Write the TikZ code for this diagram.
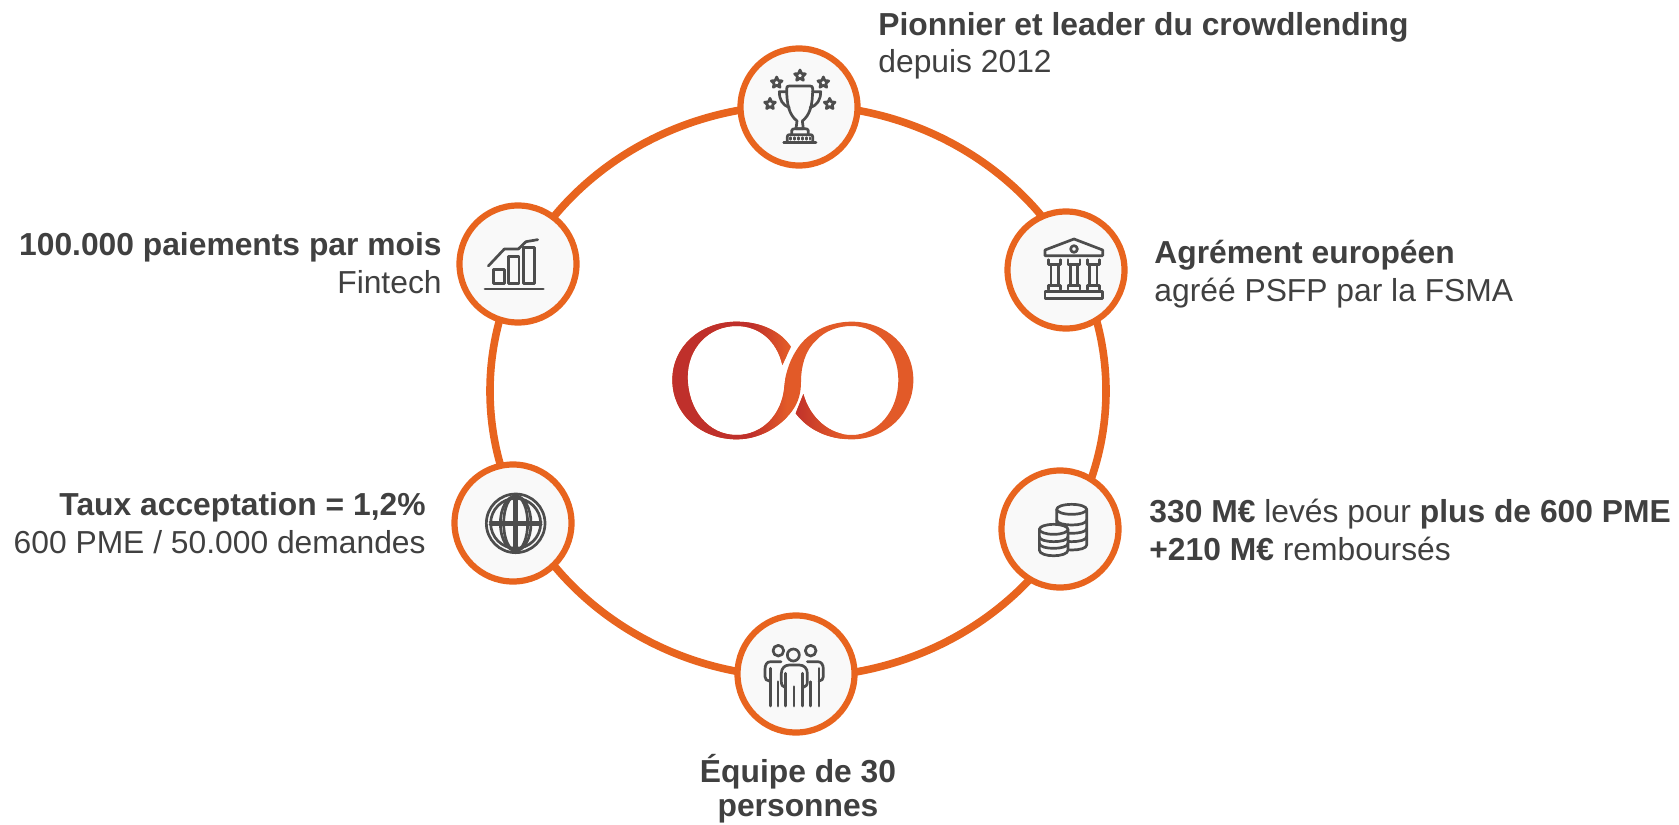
\documentclass[tikz,border=0pt]{standalone}
\usepackage{fontspec}
\setmainfont{Liberation Sans}
\definecolor{ringc}{HTML}{E8641E}
\definecolor{discc}{HTML}{F9F9F9}
\definecolor{txtc}{HTML}{404040}
\definecolor{iconc}{HTML}{4D4D4D}
\definecolor{logor}{HTML}{BF302B}
\definecolor{logoo}{HTML}{E25A28}
\tikzset{
  disc/.style={circle,draw=ringc,fill=discc,line width=3.1pt,minimum size=58.5pt,inner sep=0pt},
  lab/.style={text=txtc,font=\fontsize{15.9}{18}\selectfont,inner sep=0pt},
  icon/.style={draw=iconc,line width=1.35pt,line cap=round,line join=round},
}
\newcommand{\icstar}[2]{\draw[icon] (#1,#2)+(-90:17)--+(-126:8)--+(-162:17)--+(-198:8)--+(-234:17)--+(-270:8)--+(-306:17)--+(-342:8)--+(-18:17)--+(-54:8)--cycle;}
\newcommand{\logopath}{(378,110) .. controls (345,62) and (285,35) .. (215,35)
  .. controls (105,35) and (22,110) .. (22,210)
  .. controls (22,310) and (105,388) .. (215,388)
  .. controls (285,388) and (345,350) .. (380,305)
  .. controls (400,278) and (408,250) .. (408,215)
  .. controls (408,170) and (420,120) .. (455,90)
  .. controls (480,62) and (520,48) .. (560,48)
  .. controls (640,48) and (700,120) .. (700,210)
  .. controls (700,300) and (640,375) .. (560,375)
  .. controls (495,375) and (435,325) .. (415,252)
  -- (392,310)
  .. controls (430,360) and (490,388) .. (560,388)
  .. controls (665,388) and (745,310) .. (745,210)
  .. controls (745,110) and (665,35) .. (560,35)
  .. controls (500,35) and (440,60) .. (405,105)
  .. controls (375,145) and (362,185) .. (358,230)
  .. controls (352,310) and (295,375) .. (215,375)
  .. controls (130,375) and (68,300) .. (68,200)
  .. controls (68,115) and (130,48) .. (215,48)
  .. controls (280,48) and (335,90) .. (352,165)
  -- cycle}
\begin{document}
\begin{tikzpicture}[x=0.5pt,y=-0.5pt]
\useasboundingbox (0,0) rectangle (1679,824);
\coordinate (ctr) at (798,391);
\draw[ringc,line width=3.8pt] (ctr) ellipse [x radius=308,y radius=286];
\node[disc] (top) at (799,107) {};
\node[disc] (bank) at (1066,270) {};
\node[disc] (coins) at (1060,529) {};
\node[disc] (team) at (796,674) {};
\node[disc] (globe) at (513,523) {};
\node[disc] (chart) at (518,264) {};
% logo
\begin{scope}[shift={(665,310)},scale=1/3]
  \fill[logoo] \logopath;
  \begin{scope}
    \clip \logopath;
    \fill[logor] (0,0) rectangle (262,420);
    \shade[left color=logor,right color=logoo] (260,0) rectangle (365,420);
    \begin{scope}
      \clip (413,240) -- (385,325) -- (540,420) -- (540,240) -- cycle;
      \shade[left color=logor,right color=logoo] (385,240) rectangle (530,420);
    \end{scope}
  \end{scope}
\end{scope}
% trophy
\begin{scope}[shift={(750,60)},scale=1/3]
  \icstar{60}{132}\icstar{80}{68}\icstar{150}{47}\icstar{220}{68}\icstar{239}{132}
  \draw[icon] (118,78) -- (180,78) .. controls (186,78) and (188,80) .. (188,86)
    .. controls (188,135) and (180,165) .. (157,183) -- (160,206) -- (138,206) -- (141,183)
    .. controls (118,165) and (110,135) .. (110,86) .. controls (110,80) and (112,78) .. (118,78) -- cycle;
  \draw[icon] (110,95) -- (88,95) .. controls (88,120) and (98,135) .. (118,143);
  \draw[icon] (188,95) -- (212,95) .. controls (212,120) and (202,135) .. (180,143);
  \draw[icon] (125,224) -- (125,212) .. controls (125,208) and (130,206) .. (135,206) -- (165,206) .. controls (170,206) and (175,208) .. (175,212) -- (175,224);
  \draw[icon] (112,246) -- (112,230) .. controls (112,226) and (114,224) .. (118,224) -- (182,224) .. controls (186,224) and (188,226) .. (188,230) -- (188,246);
  \draw[icon] (101,248) -- (198,248);
  \foreach \i in {122,134,146,158,170,180} \draw[icon] (\i,233) -- (\i,238);
\end{scope}
% bank
\begin{scope}[shift={(1020,225)},scale=1/3]
  \draw[icon] (75,92) -- (75,75) -- (162,42) -- (248,75) -- (248,92) -- cycle;
  \draw[icon] (162,72) circle [radius=10];
  \foreach \c in {104,162,220} {
    \draw[icon] (\c-18,104) -- (\c-18,118) -- (\c+18,118) -- (\c+18,104);
    \draw[icon] (\c-11,118) -- (\c-11,181);
    \draw[icon] (\c+11,118) -- (\c+11,181);
    \draw[icon] (\c-18,193) -- (\c-18,181) -- (\c+18,181) -- (\c+18,193);
  }
  \draw[icon] (75,200) rectangle (248,220);
\end{scope}
% coins
\begin{scope}[shift={(1020,490)},scale=1/3]
  \draw[icon,fill=discc] (110,58) -- (110,165) .. controls (110,185) and (200,185) .. (200,165) -- (200,58) -- cycle;
  \draw[icon,fill=discc] (155,58) ellipse [x radius=45,y radius=15];
  \foreach \v in {90,115,140} \draw[icon] (110,\v) .. controls (110,\v+20) and (200,\v+20) .. (200,\v);
  \draw[icon,fill=discc] (58,118) -- (58,180) .. controls (58,203) and (144,203) .. (144,180) -- (144,118) -- cycle;
  \draw[icon,fill=discc] (101,118) ellipse [x radius=43,y radius=15];
  \foreach \v in {140,160} \draw[icon] (58,\v) .. controls (58,\v+20) and (144,\v+20) .. (144,\v);
\end{scope}
% team
\begin{scope}[shift={(750,630)},scale=1/3]
  \draw[icon] (85,62) circle [radius=16];
  \draw[icon] (130,75) circle [radius=18];
  \draw[icon] (182,62) circle [radius=16];
  \draw[icon] (93,95) -- (62,95) .. controls (50,95) and (45,105) .. (45,118) -- (45,140) .. controls (45,148) and (50,152) .. (58,153);
  \draw[icon] (172,95) -- (203,95) .. controls (215,95) and (220,105) .. (220,118) -- (220,140) .. controls (220,148) and (215,152) .. (207,153);
  \draw[icon] (105,172) .. controls (98,170) and (94,165) .. (94,155) -- (94,130) .. controls (94,115) and (104,105) .. (118,105) -- (148,105) .. controls (162,105) and (172,115) .. (172,130) -- (172,155) .. controls (172,165) and (168,170) .. (160,172);
  \foreach \vx/\vy in {62/115,84/155,107/130,132/170,157/130,182/155,207/115}
    \draw[icon] (\vx,\vy) -- (\vx,228);
\end{scope}
% globe
\begin{scope}[shift={(410,420)},scale=1/3]
  \draw[icon] (317,310) circle [radius=88];
  \draw[icon] (317,310) circle [radius=75];
  \draw[icon] (317,310) ellipse [x radius=46,y radius=82];
  \draw[icon] (317,310) ellipse [x radius=36,y radius=82];
  \draw[icon] (314,232) -- (314,388);
  \draw[icon] (320,232) -- (320,388);
  \draw[icon] (240,306) -- (394,306);
  \draw[icon] (240,314) -- (394,314);
\end{scope}
% chart
\begin{scope}[shift={(410,180)},scale=1/3]
  \draw[icon] (250,268) rectangle (283,310);
  \draw[icon] (295,230) rectangle (327,310);
  \draw[icon] (340,203) rectangle (373,310);
  \draw[icon] (225,327) -- (400,327);
  \draw[icon] (235,258) -- (283,207) -- (325,207) -- (348,185) -- (383,179);
\end{scope}
% texts
\node[lab,anchor=base west] (t1a) at (878,36) {\textbf{Pionnier et leader du crowdlending}};
\node[lab,anchor=base west] (t1b) at (878,73) {depuis 2012};
\node[lab,anchor=base west] (t2a) at (1154,263) {\textbf{Agrément européen}};
\node[lab,anchor=base west] (t2b) at (1154,301) {agréé PSFP par la FSMA};
\node[lab,anchor=base west] (t3a) at (1149,522) {\textbf{330 M€} levés pour \textbf{plus de 600 PME}};
\node[lab,anchor=base west] (t3b) at (1149,560) {\textbf{+210 M€} remboursés};
\node[lab,anchor=base] (t4a) at (798,782) {\textbf{Équipe de 30}};
\node[lab,anchor=base] (t4b) at (798,816) {\textbf{personnes}};
\node[lab,anchor=base east] (t5a) at (426,515) {\textbf{Taux acceptation = 1,2\%}};
\node[lab,anchor=base east] (t5b) at (426,553) {600 PME / 50.000 demandes};
\node[lab,anchor=base east] (t6a) at (442,255) {\textbf{100.000 paiements par mois}};
\node[lab,anchor=base east] (t6b) at (442,293) {Fintech};
\end{tikzpicture}
\end{document}
